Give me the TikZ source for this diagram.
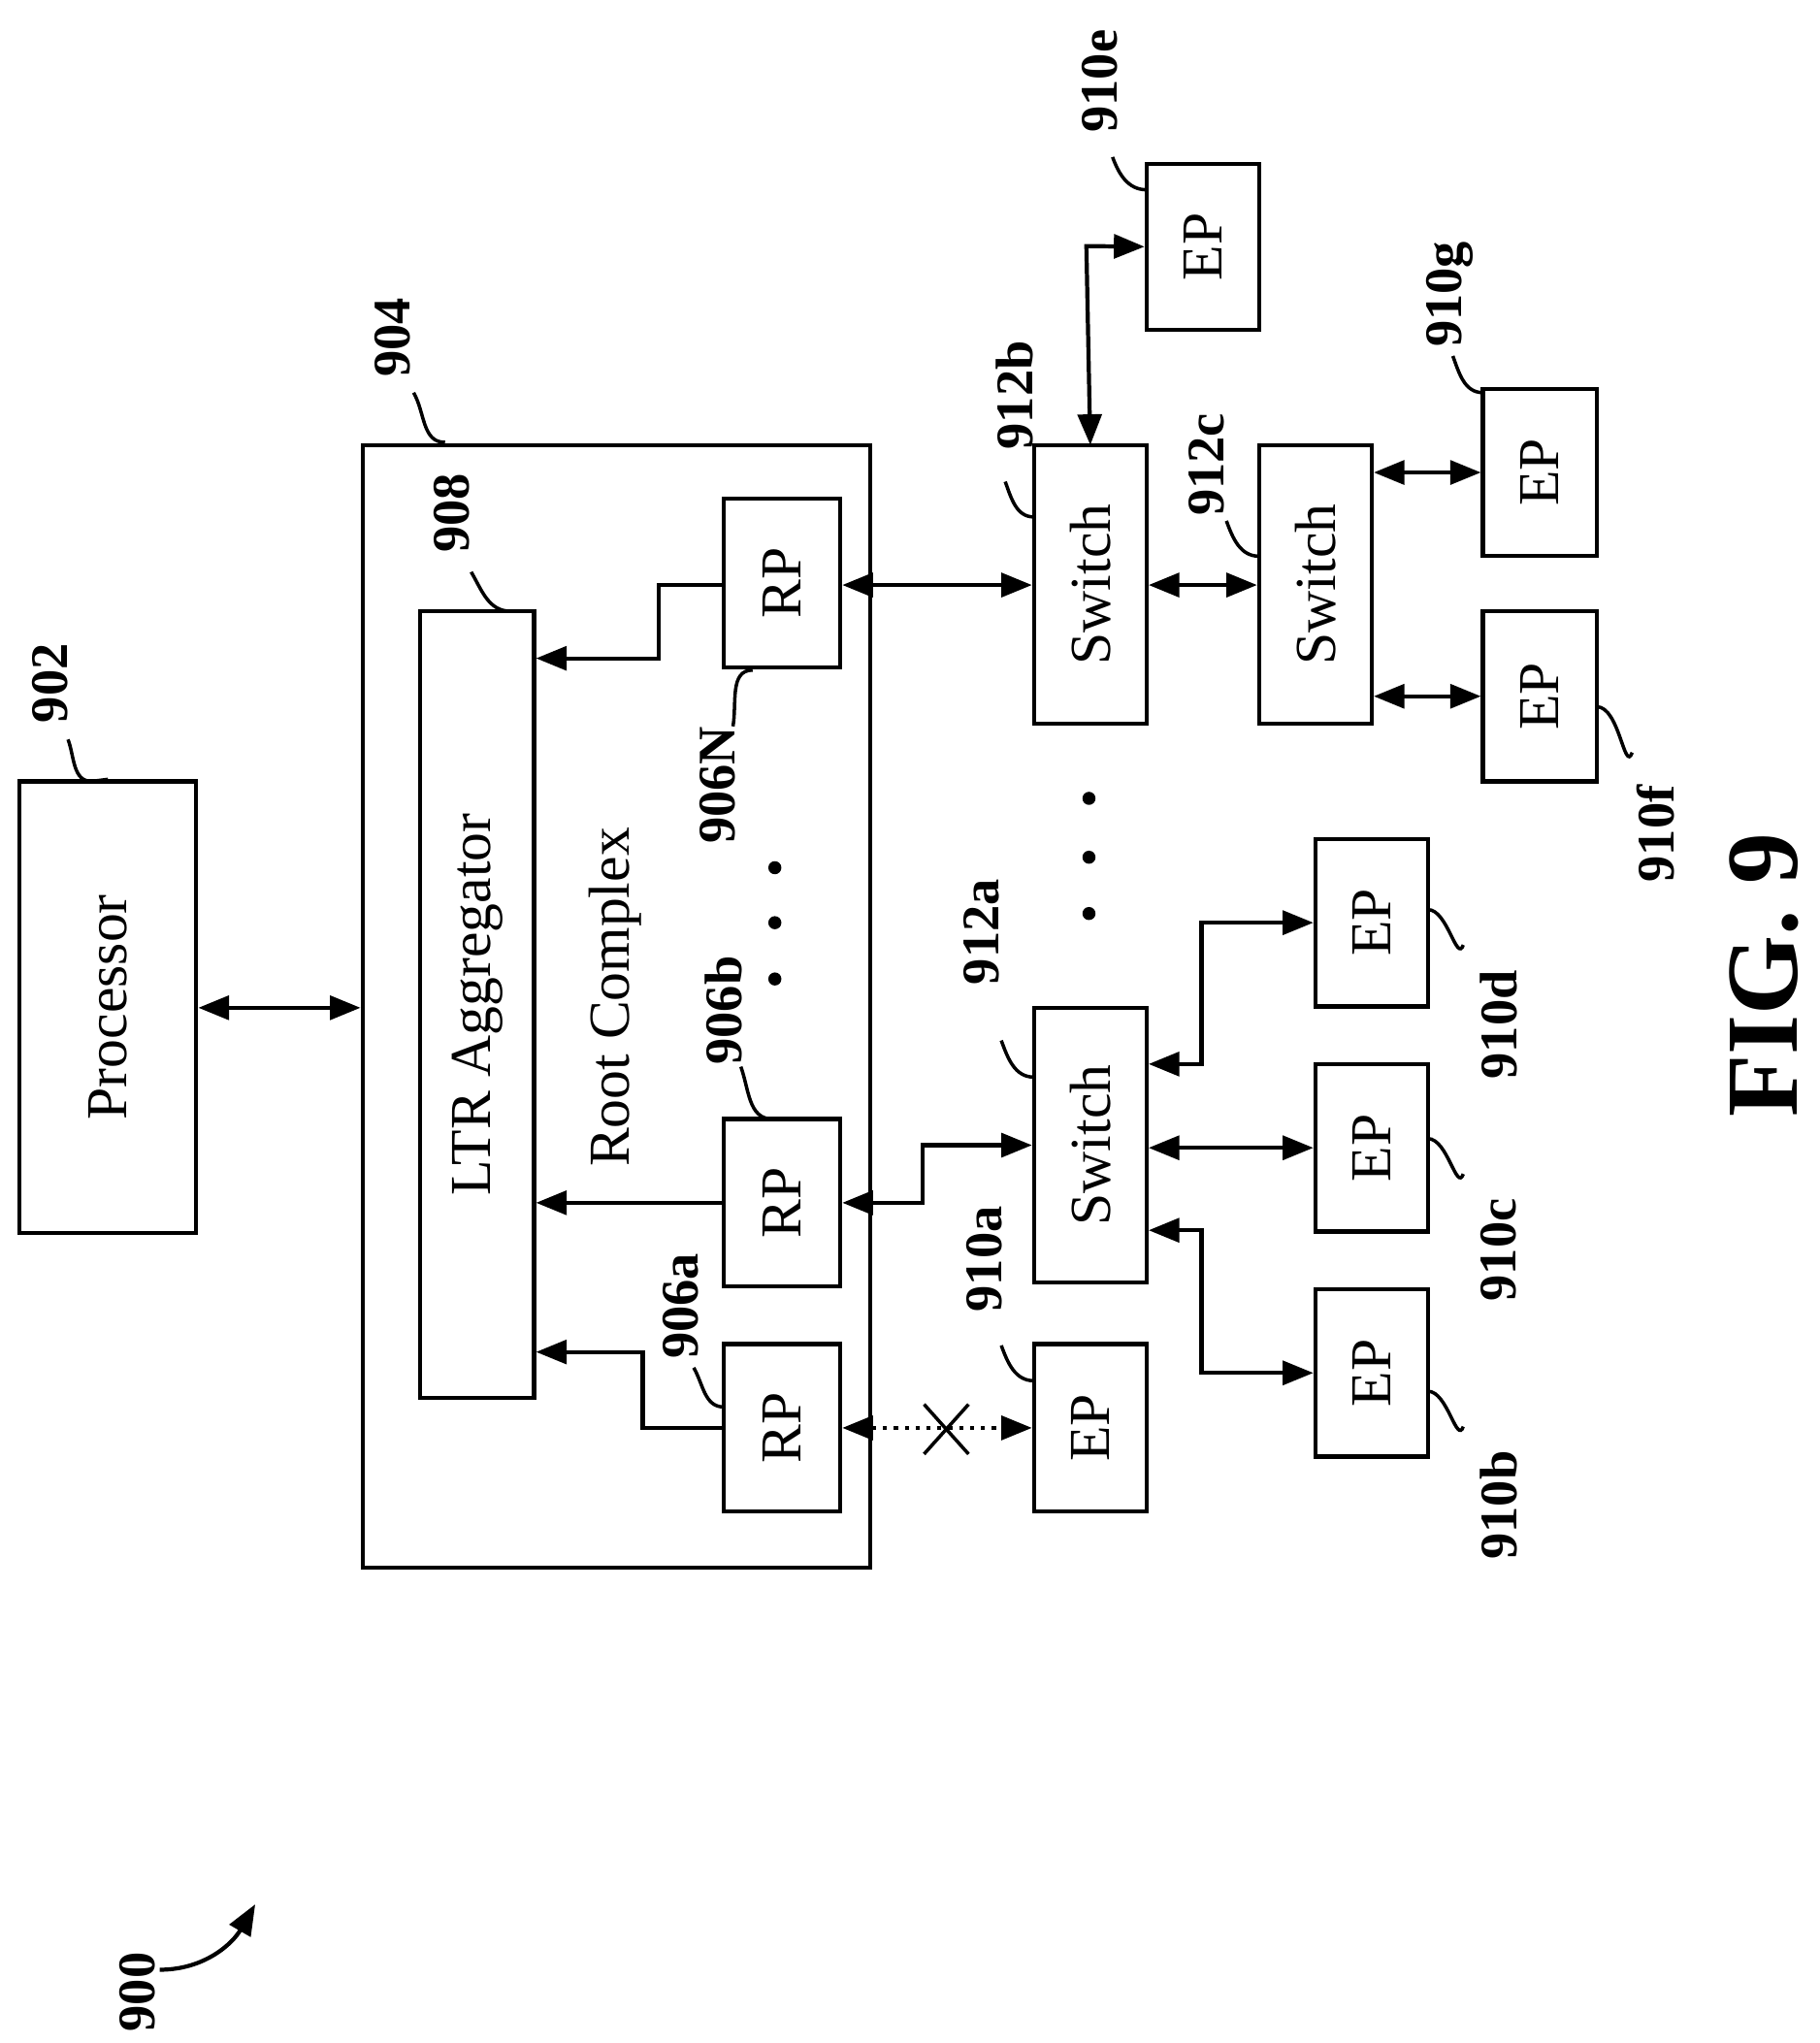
\documentclass[tikz,border=0pt]{standalone}
\usepackage{fontspec}
\setmainfont{Liberation Serif}
\usetikzlibrary{arrows.meta}

\begin{document}
\begin{tikzpicture}[
    x=0.0135cm, y=-0.0135cm,
    box/.style={draw, line width=1.2pt, inner sep=0pt},
    txt/.style={rotate=90, font=\fontsize{17}{20}\selectfont},
    lbl/.style={rotate=90, font=\fontsize{15.5}{18}\selectfont\bfseries},
    arrow/.style={{Triangle[length=9pt,width=7pt]}-{Triangle[length=9pt,width=7pt]}, line width=1.2pt},
    onearrow/.style={-{Triangle[length=9pt,width=7pt]}, line width=1.2pt},
    lead/.style={line width=1pt}
    ]
\useasboundingbox (0,0) rectangle (1390,1561);

% Processor and root complex
\node[box, minimum width=135*0.0135cm, minimum height=345*0.0135cm] (proc) at (82.5,769.5) {};
\node[txt] at (proc) {Processor};
\node[box, minimum width=388*0.0135cm, minimum height=858*0.0135cm] (rc) at (471,769) {};
\node[txt] (rclabel) at (470,762) {Root Complex};
\node[box, minimum width=87*0.0135cm, minimum height=601*0.0135cm] (ltr) at (364.5,767.5) {};
\node[txt] at (ltr) {LTR Aggregator};
\draw[arrow] (proc.east |- 0,770) -- (rc.west |- 0,770);

% Root ports
\node[box, minimum width=89*0.0135cm, minimum height=129*0.0135cm] (rpN) at (597.5,445.5) {};
\node[box, minimum width=89*0.0135cm, minimum height=128*0.0135cm] (rpB) at (597.5,919) {};
\node[box, minimum width=89*0.0135cm, minimum height=128*0.0135cm] (rpA) at (597.5,1091) {};
\foreach \r in {rpN,rpB,rpA} \node[txt] at (\r) {RP};
\foreach \y in {663,705,748} \fill (592,\y) circle (5);

\draw[onearrow] (rpN.west |- 0,447) -- (503,447) -- (503,503) -- (ltr.east |- 0,503);
\draw[onearrow] (rpB.west) -- (ltr.east |- rpB.west);
\draw[onearrow] (rpA.west) -- (491,1091) -- (491,1033) -- (ltr.east |- 0,1033);

% Switches
\node[box, minimum width=86*0.0135cm, minimum height=213*0.0135cm] (swB) at (833,446.5) {};
\node[box, minimum width=86*0.0135cm, minimum height=210*0.0135cm] (swA) at (833,875) {};
\node[box, minimum width=86*0.0135cm, minimum height=213*0.0135cm] (swC) at (1005,446.5) {};
\foreach \s in {swB,swA,swC} \node[txt] at (\s) {Switch};
\foreach \y in {610,655,698} \fill (832,\y) circle (5);

% End points
\node[box, minimum width=86*0.0135cm, minimum height=128*0.0135cm] (epA) at (833,1091) {};
\node[box, minimum width=86*0.0135cm, minimum height=128*0.0135cm] (epB) at (1048,1049) {};
\node[box, minimum width=86*0.0135cm, minimum height=128*0.0135cm] (epC) at (1048,877) {};
\node[box, minimum width=86*0.0135cm, minimum height=128*0.0135cm] (epD) at (1048,705) {};
\node[box, minimum width=86*0.0135cm, minimum height=127*0.0135cm] (epE) at (919,188.5) {};
\node[box, minimum width=87*0.0135cm, minimum height=130*0.0135cm] (epF) at (1176.5,532) {};
\node[box, minimum width=87*0.0135cm, minimum height=128*0.0135cm] (epG) at (1176.5,361) {};
\foreach \e in {epA,epB,epC,epD,epE,epF,epG} \node[txt] at (\e) {EP};

% Links
\draw[arrow] (rpN.east |- 0,447) -- (swB.west |- 0,447);
\draw[arrow] (rpB.east) -- (705,919) -- (705,875) -- (swA.west);
\draw[arrow, dotted] (rpA.east) -- (epA.west);
\draw[line width=1pt] (706,1073) -- (740,1111) (706,1111) -- (740,1073);
\draw[arrow] (swA.east |- 0,813) -- (918,813) -- (918,705) -- (epD.west);
\draw[arrow] (swA.east |- epC.west) -- (epC.west);
\draw[arrow] (swA.east |- 0,940) -- (918,940) -- (918,1049) -- (epB.west);
\draw[arrow] (swB.north |- 0,340) -- (830,188) -- (epE.west);
\draw[arrow] (swB.east |- 0,447) -- (swC.west |- 0,447);
\draw[arrow] (swC.east |- epG.west) -- (epG.west);
\draw[arrow] (swC.east |- epF.west) -- (epF.west);

% Reference labels
\node[lbl] (l902) at (38,522) {902};
\draw[lead] (52,565) to[out=-70,in=180] (70,597) -- (proc.north);
\node[lbl] (l904) at (300,258) {904};
\draw[lead] (316,300) to[out=-60,in=180] (340,338);
\node[lbl] (l908) at (345,392) {908};
\draw[lead] (360,437) to[out=-60,in=180] (390,467);
\node[lbl] (l906N) at (548,600) {906N};
\draw[lead] (560,555) to[out=80,in=180] (575,512);
\node[lbl] (l906b) at (553,772) {906b};
\draw[lead] (566,815) to[out=-70,in=180] (590,855);
\node[lbl] (l906a) at (520,998) {906a};
\draw[lead] (530,1045) to[out=-60,in=180] (553,1075);
\node[lbl] (l912b) at (775,302) {912b};
\draw[lead] (768,368) to[out=-70,in=180] (790,395);
\node[lbl] (l912a) at (750,712) {912a};
\draw[lead] (765,795) to[out=-70,in=180] (790,823);
\node[lbl] (l912c) at (922,355) {912c};
\draw[lead] (937,398) to[out=-70,in=180] (962,425);
\node[lbl] (l910a) at (752,962) {910a};
\draw[lead] (765,1028) to[out=-70,in=180] (790,1055);
\node[lbl] (l910b) at (1145,1150) {910b};
\draw[lead] (1091,1063) to[out=0,in=-110] (1118,1090);
\node[lbl] (l910c) at (1145,955) {910c};
\draw[lead] (1091,870) to[out=0,in=-110] (1118,897);
\node[lbl] (l910d) at (1145,783) {910d};
\draw[lead] (1091,695) to[out=0,in=-110] (1118,722);
\node[lbl] (l910e) at (840,62) {910e};
\draw[lead] (850,120) to[out=-70,in=180] (876,145);
\node[lbl] (l910f) at (1265,637) {910f};
\draw[lead] (1220,540) to[out=0,in=-110] (1247,575);
\node[lbl] (l910g) at (1108,225) {910g};
\draw[lead] (1110,272) to[out=-70,in=180] (1133,300);
\node[lbl] (l900) at (105,1522) {900};
\draw[onearrow] (122,1505) to[out=0,in=-120] (195,1455);
\node[rotate=90, font=\fontsize{30}{36}\selectfont\bfseries] (fig) at (1348,745) {FIG. 9};
\end{tikzpicture}
\end{document}
